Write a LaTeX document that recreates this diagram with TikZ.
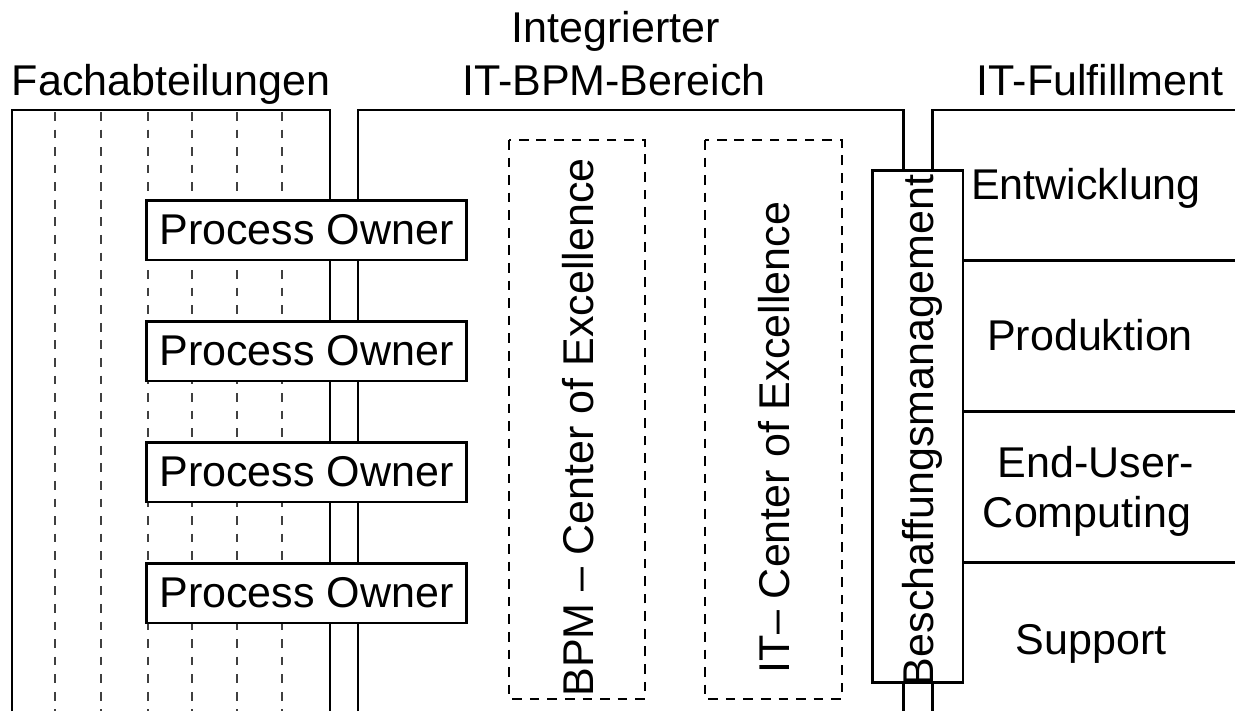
\documentclass[tikz,border=0pt]{standalone}
\usepackage{fontspec}
\setmainfont{Liberation Sans}

\tikzset{
  wall/.style={line width=1.7pt},
  lane/.style={draw=black!75, line width=1.3pt, dash pattern=on 5pt off 5pt},
  coebox/.style={line width=1.4pt, dash pattern=on 5.5pt off 4.5pt},
  ownerbox/.style={draw, wall, fill=white, minimum width=6.42cm, minimum height=1.2cm, inner sep=0pt},
  lbl/.style={anchor=base, inner sep=0pt},
}

\begin{document}
\begin{tikzpicture}[x=0.02cm, y=-0.02cm, font=\fontsize{24.5}{29}\selectfont]
        \useasboundingbox (0,0) rectangle (1235,711);
        % areas
        \draw[wall] (12,711) -- (12,110) -- (330,110) -- (330,711);     % Fachabteilungen
        \draw[wall] (358,711) -- (358,110) -- (903,110) -- (903,711);   % IT-BPM
        \draw[wall] (1235,110) -- (932,110) -- (932,711);               % IT-Fulfillment
        \foreach \x in {55,101,148,192,237,282}
            \draw[lane] (\x,112) -- (\x,711);
        \foreach \y in {260,411,562}
            \draw[wall] (963,\y) -- (1235,\y);

        % headings
        \node[lbl] (fach) at (171,95) {Fachabteilungen};
        \node[lbl] (integ) at (616,42) {Integrierter};
        \node[lbl] (itbpm) at (614,95) {IT-BPM-Bereich};
        \node[lbl] (fulfil) at (1100,95) {IT-Fulfillment};

        % process owners
        \foreach \i/\y in {1/230,2/351,3/472,4/593}
            \node[ownerbox] (owner\i) at (306.5,\y) {Process Owner};

        % centers of excellence
        \draw[coebox] (509,140) rectangle (645,699);
        \draw[coebox] (705,140) rectangle (842,699);
        \node[lbl, rotate=90] (bpmcoe) at (593,427.5) {BPM – Center of Excellence};
        \node[lbl, rotate=90] (itcoe) at (789,437.5) {IT– Center of Excellence};

        % Beschaffung
        \node[draw, wall, fill=white, minimum width=1.82cm, minimum height=10.26cm, inner sep=0pt] (besch) at (917.5,426.5) {};
        \node[lbl, rotate=90] (beschtxt) at (933,430.5) {Beschaffungsmanagement};

        % fulfillment units
        \node[lbl] (entw) at (1086,199) {Entwicklung};
        \node[lbl] (prod) at (1090,350) {Produktion};
        \node[lbl] (euc1) at (1096,477) {End-User-};
        \node[lbl] (euc2) at (1087,527) {Computing};
        \node[lbl] (supp) at (1091,654) {Support};
\end{tikzpicture}
\end{document}
